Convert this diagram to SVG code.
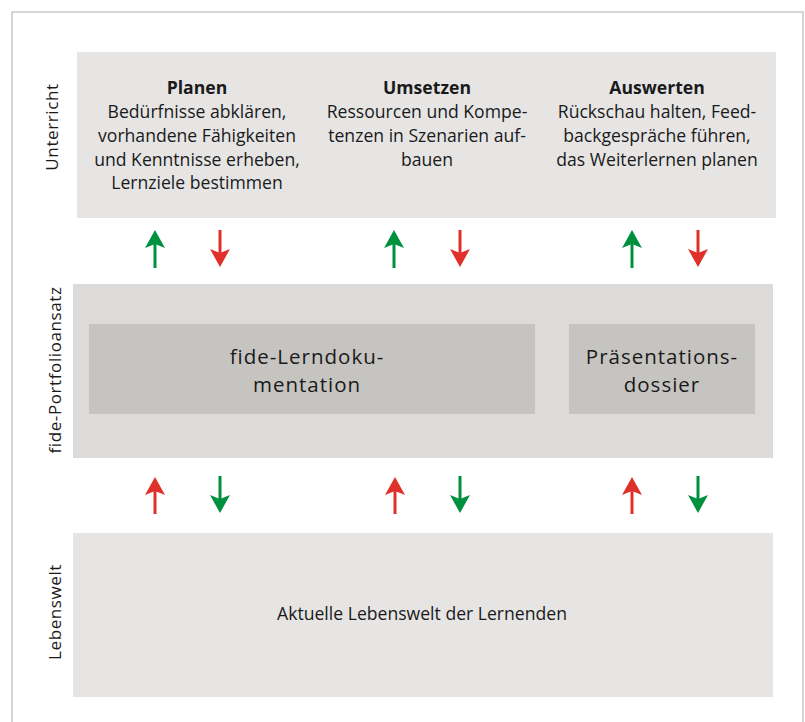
<svg xmlns="http://www.w3.org/2000/svg" width="805" height="722" viewBox="0 0 805 722">
<style>
.t{font-family:"Open Sans","Noto Sans","Liberation Sans",sans-serif;fill:#1a1a1a;text-anchor:middle}
.b{font-weight:bold}
.s{font-size:17.6px}
.side{font-family:"Open Sans","Noto Sans","Liberation Sans",sans-serif;font-size:17px;fill:#1a1a1a;text-anchor:middle;letter-spacing:0.6px}
.big{font-size:20.5px;letter-spacing:1px}
.shaftG{stroke:#00913f;stroke-width:3}
.shaftR{stroke:#e0302a;stroke-width:3}
</style>
<defs>
<path id="up" d="M0,-18 L10,0 L0,-4 L-10,0 Z"/>
</defs>
<rect x="0" y="0" width="805" height="722" fill="#ffffff"/>
<path d="M12,722 V12 H803 V722" fill="none" stroke="#c8c8c8" stroke-width="1.5"/>

<g id="unterricht">
<rect x="77" y="52" width="699" height="166" fill="#e6e5e4"/>
<text class="side" transform="translate(58,127) rotate(-90)">Unterricht</text>
</g>
<g id="planen">
<text class="t s b" x="197" y="94">Planen</text>
<text class="t s" x="197" y="118">Bedürfnisse abklären,</text>
<text class="t s" x="197" y="142">vorhandene Fähigkeiten</text>
<text class="t s" x="197" y="166">und Kenntnisse erheben,</text>
<text class="t s" x="197" y="189">Lernziele bestimmen</text>
</g>
<g id="umsetzen">
<text class="t s b" x="427" y="94">Umsetzen</text>
<text class="t s" x="427" y="118">Ressourcen und Kompe-</text>
<text class="t s" x="427" y="142">tenzen in Szenarien auf-</text>
<text class="t s" x="427" y="166">bauen</text>
</g>
<g id="auswerten">
<text class="t s b" x="657" y="94">Auswerten</text>
<text class="t s" x="657" y="118">Rückschau halten, Feed-</text>
<text class="t s" x="657" y="142">backgespräche führen,</text>
<text class="t s" x="657" y="166">das Weiterlernen planen</text>
</g>

<g id="portfolio">
<rect x="73" y="284" width="700" height="174" fill="#dcdbda"/>
<text class="side" transform="translate(61,370) rotate(-90)">fide-Portfolioansatz</text>
</g>
<g id="lerndokumentation">
<rect x="89" y="324" width="446" height="90" fill="#c6c4c1"/>
<text class="t big" x="307" y="364">fide-Lerndoku-</text>
<text class="t big" x="307" y="392">mentation</text>
</g>
<g id="praesentationsdossier">
<rect x="569" y="324" width="186" height="90" fill="#c6c4c1"/>
<text class="t big" x="662" y="364">Präsentations-</text>
<text class="t big" x="662" y="392">dossier</text>
</g>

<g id="lebenswelt">
<rect x="73" y="533" width="700" height="164" fill="#e6e5e4"/>
<text class="side" transform="translate(61,612) rotate(-90)">Lebenswelt</text>
<text class="t s" x="422" y="620">Aktuelle Lebenswelt der Lernenden</text>
</g>

<g id="connectors">
<g>
<line class="shaftG" x1="155" y1="268" x2="155" y2="240"/><use href="#up" fill="#00913f" transform="translate(155,248)"/>
<line class="shaftG" x1="394" y1="268" x2="394" y2="240"/><use href="#up" fill="#00913f" transform="translate(394,248)"/>
<line class="shaftG" x1="632" y1="268" x2="632" y2="240"/><use href="#up" fill="#00913f" transform="translate(632,248)"/>
<line class="shaftR" x1="220" y1="230" x2="220" y2="258"/><use href="#up" fill="#e0302a" transform="translate(220,249) rotate(180)"/>
<line class="shaftR" x1="460" y1="230" x2="460" y2="258"/><use href="#up" fill="#e0302a" transform="translate(460,249) rotate(180)"/>
<line class="shaftR" x1="698" y1="230" x2="698" y2="258"/><use href="#up" fill="#e0302a" transform="translate(698,249) rotate(180)"/>
</g>
<g>
<line class="shaftR" x1="155" y1="514" x2="155" y2="486"/><use href="#up" fill="#e0302a" transform="translate(155,495)"/>
<line class="shaftR" x1="395" y1="514" x2="395" y2="486"/><use href="#up" fill="#e0302a" transform="translate(395,495)"/>
<line class="shaftR" x1="632" y1="514" x2="632" y2="486"/><use href="#up" fill="#e0302a" transform="translate(632,495)"/>
<line class="shaftG" x1="220" y1="476" x2="220" y2="504"/><use href="#up" fill="#00913f" transform="translate(220,495) rotate(180)"/>
<line class="shaftG" x1="460" y1="476" x2="460" y2="504"/><use href="#up" fill="#00913f" transform="translate(460,495) rotate(180)"/>
<line class="shaftG" x1="698" y1="476" x2="698" y2="504"/><use href="#up" fill="#00913f" transform="translate(698,495) rotate(180)"/>
</g>
</g>
</svg>
